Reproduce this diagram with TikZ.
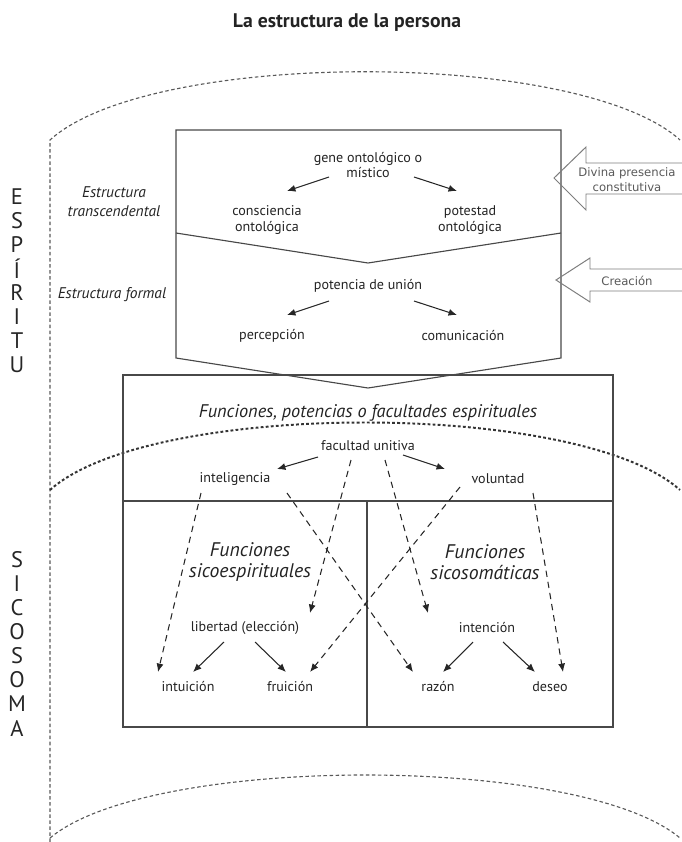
\documentclass[tikz,border=0pt]{standalone}
\usepackage{fontspec}
\setmainfont{PT Sans}
\newfontfamily\arrowfont{DejaVu Sans}
\usepackage{tikz}
\usetikzlibrary{arrows.meta,positioning,calc}
\definecolor{lineg}{RGB}{72,72,72}
\definecolor{textg}{RGB}{35,35,35}
\definecolor{arrowg}{RGB}{125,125,125}
\tikzset{
  lbl/.style={font=\fontsize{10}{11.3}\selectfont, align=center, text=textg, inner sep=1pt},
  sidelbl/.style={font=\fontsize{11}{13.4}\selectfont\itshape, align=center, text=textg},
  funclbl/.style={font=\fontsize{14}{15}\selectfont\itshape, align=center, text=textg},
  blocklbl/.style={font=\arrowfont\fontsize{8.3}{10.7}\selectfont, align=center, text=black!65},
  vletter/.style={font=\fontsize{16}{16}\selectfont, text=black!85},
  arr/.style={-{Latex[length=6pt,width=5pt]}, line width=0.75pt, draw=black!85},
  darr/.style={arr, dash pattern=on 4.5pt off 3.5pt},
  frame/.style={draw=lineg, line width=0.8pt},
  bigarrow/.style={draw=arrowg, line width=0.7pt},
  zone/.style={draw=black!65, line width=0.8pt, dash pattern=on 2.5pt off 1.8pt},
  zonebold/.style={draw=black!80, line width=1.4pt, dash pattern=on 2pt off 1.6pt}
}

\begin{document}
\begin{tikzpicture}[x=0.025cm, y=-0.025cm]
  \clip (0,0) rectangle (682,842);
  % Title
  \node[font=\fontsize{14}{16}\selectfont\bfseries, text=textg] (title) at (347,23) {La estructura de la persona};
  % Zones (espiritu / sicosoma)
  \draw[zone] (50,842) -- (50,140) .. controls (150,49) and (580,49) .. (680,140);
  \draw[zonebold] (50,490) .. controls (150,400) and (580,400) .. (680,490);
  \draw[zone] (50,838) .. controls (150,754) and (580,754) .. (680,838);
  \foreach \l [count=\i from 0] in {E,S,P,Í,R,I,T,U}
    \node[vletter] (esp\i) at (17,197+24*\i) {\l};
  \foreach \l [count=\i from 0] in {S,I,C,O,S,O,M,A}
    \node[vletter] (sic\i) at (17,560+24*\i) {\l};
  % Side labels
  \node[sidelbl] (trans) at (114,202) {Estructura\\transcendental};
  \node[sidelbl] (formal) at (112,295) {Estructura formal};
  % Structure box
  \draw[frame] (176,130) -- (561,130) -- (561,358) -- (368,388) -- (176,358) -- cycle;
  \draw[frame] (176,233) -- (368,263) -- (561,233);
  % Functions box
  \draw[frame] (123,375) rectangle (613,727);
  \draw[frame] (123,501) -- (613,501);
  \draw[frame] (367,501) -- (367,727);
  % Block arrows from the right
  \draw[bigarrow] (690,163) -- (586,163) -- (586,147) -- (554,178) -- (586,210) -- (586,194) -- (690,194);
  \node[blocklbl] (divina) at (627,180) {Divina presencia\\constitutiva};
  \draw[bigarrow] (690,269) -- (590,269) -- (590,258) -- (556,280) -- (590,302) -- (590,291) -- (690,291);
  \node[blocklbl] (creacion) at (627,281) {Creación};
  % Transcendental structure
  \node[lbl] (gene) at (368,165) {gene ontológico o\\místico};
  \node[lbl] (consc) at (267,220) {consciencia\\ontológica};
  \node[lbl] (potestad) at (470,220) {potestad\\ontológica};
  \draw[arr] ($(gene)+(-39,12)$) -- ($(consc)+(20,-29)$);
  \draw[arr] ($(gene)+(46,12)$) -- ($(potestad)+(-13,-29)$);
  % Formal structure
  \node[lbl] (union) at (368,286) {potencia de unión};
  \node[lbl] (percep) at (272,336) {percepción};
  \node[lbl] (comunic) at (463,336) {comunicación};
  \draw[arr] ($(union)+(-39,15)$) -- ($(percep)+(15,-21)$);
  \draw[arr] ($(union)+(46,15)$) -- ($(comunic)+(-6,-21)$);
  % Spiritual functions
  \node[funclbl, font=\fontsize{13}{15}\selectfont\itshape] (functit) at (368,413) {Funciones, potencias o facultades espirituales};
  \node[lbl] (facult) at (368,446) {facultad unitiva};
  \node[lbl] (intel) at (235,479) {inteligencia};
  \node[lbl] (volunt) at (498,479) {voluntad};
  \draw[arr] ($(facult)+(-50,11)$) -- ($(intel)+(42,-10)$);
  \draw[arr] ($(facult)+(35,9)$) -- ($(volunt)+(-53,-10)$);
  % Psycho-spiritual and psychosomatic functions
  \node[funclbl] (sicoesp) at (250,562) {Funciones\\sicoespirituales};
  \node[funclbl] (sicosom) at (485,562) {Funciones\\sicosomáticas};
  \node[lbl] (libertad) at (245,628) {libertad (elección)};
  \node[lbl] (intencion) at (487,628) {intención};
  \node[lbl] (intuicion) at (188,687) {intuición};
  \node[lbl] (fruicion) at (290,687) {fruición};
  \node[lbl] (razon) at (438,687) {razón};
  \node[lbl] (deseo) at (550,687) {deseo};
  \draw[arr] ($(libertad)+(-21,14)$) -- ($(intuicion)+(5,-15)$);
  \draw[arr] ($(libertad)+(10,14)$) -- ($(fruicion)+(-4,-15)$);
  \draw[arr] ($(intencion)+(-14,14)$) -- ($(razon)+(5,-15)$);
  \draw[arr] ($(intencion)+(16,14)$) -- ($(deseo)+(-15,-15)$);
  % Dashed links
  \draw[darr] ($(intel)+(-34,14)$) -- ($(intuicion)+(-30,-15)$);
  \draw[darr] ($(intel)+(52,14)$) -- ($(razon)+(-25,-15)$);
  \draw[darr] ($(facult)+(-17,14)$) -- ($(libertad)+(65,-15)$);
  \draw[darr] ($(facult)+(17,14)$) -- ($(intencion)+(-59,-15)$);
  \draw[darr] ($(volunt)+(-38,8)$) -- ($(fruicion)+(20,-15)$);
  \draw[darr] ($(volunt)+(35,14)$) -- ($(deseo)+(13,-15)$);
\end{tikzpicture}
\end{document}
